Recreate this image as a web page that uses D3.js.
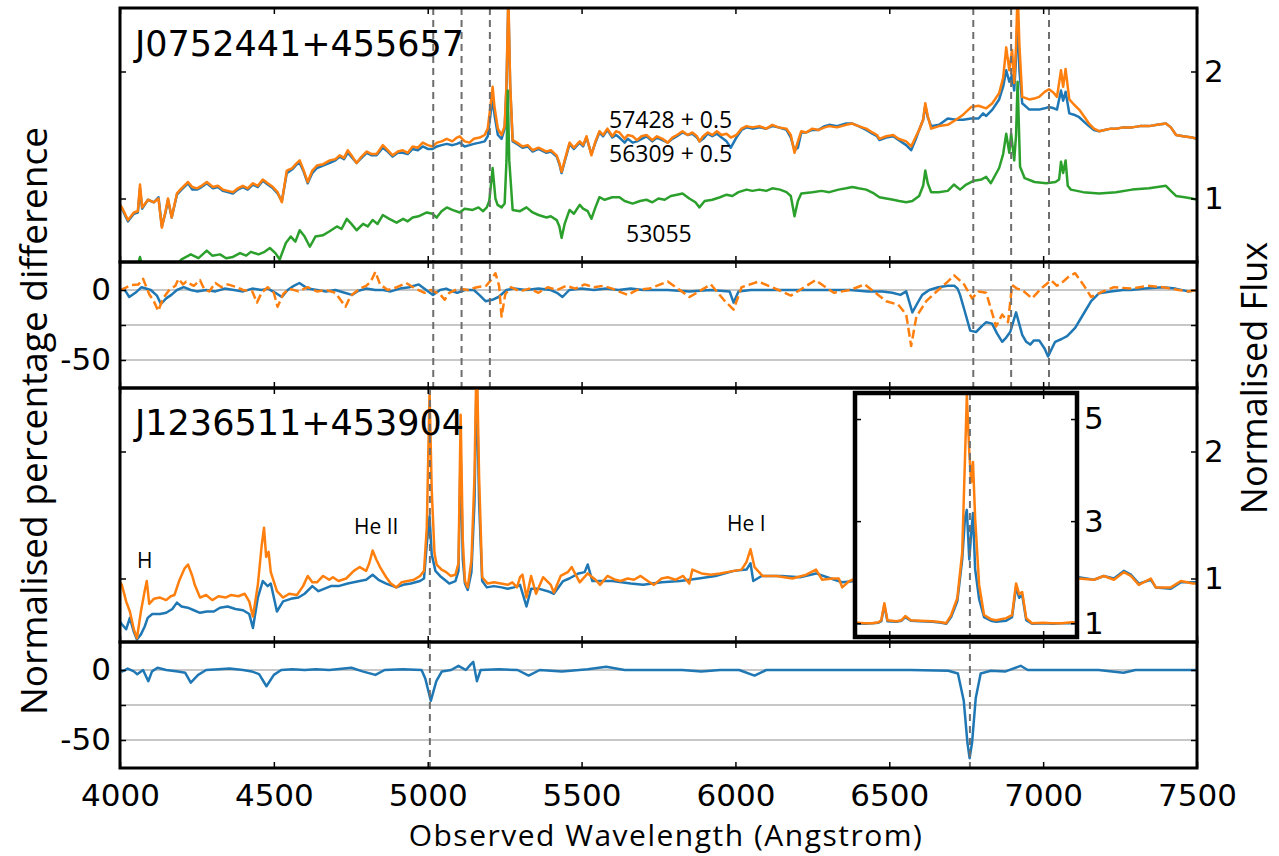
<!DOCTYPE html>
<html>
<head>
<meta charset="utf-8">
<script src="https://cdn.jsdelivr.net/npm/d3@7"></script>
<style>
  body { margin: 0; background: #fff; }
  svg { display: block; }
</style>
</head>
<body>
<svg id="chart"></svg>
<script>
// ---------------- data ----------------
const xTicks = [4000, 4500, 5000, 5500, 6000, 6500, 7000, 7500];
const fluxTicks = [1, 2];
const diffTicks = [0, -25, -50];
const diffTickLabels = [0, -50];
const insetXTicks = [6500, 7000];
const insetTicks = [1, 3, 5];

const objectTop = 'J0752441+455657';
const objectBottom = 'J1236511+453904';
const epochLabels = ['57428 + 0.5', '56309 + 0.5', '53055'];
const lineLabels = ['H', 'He II', 'He I'];

// dashed marker wavelengths
const topMarkers = [5018, 5110, 5202, 6773, 6896, 7019];
const bottomMarkers = [5007, 6762];

// J0752441+455657 spectra (offset already applied)
const flux57428 = [[4000,0.95],[4006,0.93],[4026,0.83],[4045,0.89],[4058,0.9],[4065,1.11],[4072,0.93],[4091,0.99],[4110,0.97],[4125,1.0],[4136,0.77],[4148,0.9],[4156,1.0],[4168,0.85],[4185,1.04],[4200,1.08],[4221,1.13],[4235,1.09],[4250,1.08],[4265,1.1],[4282,1.13],[4302,1.09],[4318,1.1],[4334,1.07],[4350,1.06],[4367,1.05],[4383,1.08],[4399,1.1],[4415,1.08],[4432,1.12],[4448,1.1],[4464,1.15],[4480,1.12],[4497,1.09],[4512,1.05],[4526,0.97],[4542,1.22],[4560,1.24],[4575,1.28],[4584,1.30],[4597,1.22],[4610,1.13],[4625,1.22],[4640,1.26],[4660,1.27],[4682,1.30],[4700,1.31],[4714,1.34],[4728,1.32],[4740,1.38],[4755,1.33],[4769,1.28],[4785,1.33],[4802,1.37],[4818,1.35],[4834,1.35],[4854,1.42],[4870,1.38],[4886,1.34],[4903,1.37],[4919,1.38],[4935,1.36],[4951,1.41],[4968,1.40],[4984,1.44],[5000,1.42],[5016,1.41],[5030,1.44],[5045,1.45],[5062,1.47],[5080,1.45],[5095,1.48],[5104,1.49],[5120,1.45],[5136,1.44],[5150,1.47],[5169,1.48],[5185,1.50],[5195,1.55],[5205,1.75],[5211,1.88],[5217,1.72],[5228,1.55],[5240,1.50],[5250,1.57],[5256,1.9],[5262,2.6],[5268,1.9],[5276,1.46],[5290,1.44],[5308,1.41],[5325,1.42],[5341,1.38],[5360,1.40],[5386,1.37],[5400,1.38],[5419,1.34],[5428,1.28],[5435,1.21],[5445,1.30],[5461,1.44],[5475,1.40],[5494,1.45],[5505,1.42],[5516,1.49],[5532,1.34],[5545,1.45],[5558,1.53],[5570,1.50],[5584,1.55],[5600,1.49],[5612,1.53],[5623,1.52],[5640,1.47],[5650,1.50],[5666,1.49],[5680,1.46],[5695,1.49],[5711,1.50],[5730,1.46],[5745,1.49],[5763,1.47],[5780,1.44],[5795,1.48],[5810,1.50],[5828,1.53],[5845,1.50],[5860,1.52],[5875,1.49],[5883,1.45],[5895,1.49],[5910,1.52],[5925,1.50],[5940,1.53],[5955,1.50],[5971,1.51],[5985,1.48],[6003,1.50],[6020,1.55],[6036,1.57],[6055,1.56],[6078,1.57],[6100,1.55],[6120,1.58],[6140,1.56],[6166,1.55],[6180,1.50],[6192,1.36],[6203,1.45],[6214,1.53],[6230,1.52],[6250,1.55],[6270,1.54],[6290,1.56],[6305,1.57],[6330,1.56],[6360,1.58],[6380,1.59],[6400,1.57],[6425,1.55],[6445,1.52],[6460,1.50],[6468,1.47],[6490,1.49],[6513,1.50],[6530,1.47],[6555,1.45],[6571,1.41],[6585,1.48],[6597,1.54],[6610,1.62],[6617,1.75],[6625,1.65],[6636,1.55],[6662,1.57],[6690,1.58],[6717,1.62],[6740,1.66],[6766,1.72],[6790,1.73],[6815,1.71],[6835,1.75],[6857,1.83],[6870,1.95],[6880,2.19],[6890,2.01],[6899,2.17],[6906,1.91],[6912,2.2],[6917,2.65],[6923,2.2],[6932,1.80],[6955,1.78],[6975,1.79],[6987,1.80],[7005,1.84],[7019,1.86],[7035,1.83],[7045,1.80],[7058,2.01],[7065,1.88],[7073,2.02],[7085,1.78],[7100,1.74],[7117,1.70],[7135,1.64],[7149,1.59],[7165,1.55],[7182,1.53],[7200,1.54],[7220,1.55],[7237,1.55],[7260,1.56],[7289,1.56],[7315,1.57],[7344,1.57],[7370,1.58],[7399,1.59],[7415,1.56],[7432,1.50],[7455,1.49],[7484,1.48],[7500,1.47]];

const flux56309 = [[4000,0.94],[4006,0.92],[4026,0.82],[4045,0.88],[4058,0.89],[4065,1.08],[4072,0.92],[4091,0.99],[4110,0.97],[4125,1.01],[4136,0.78],[4148,0.89],[4156,0.99],[4168,0.85],[4185,1.03],[4200,1.07],[4221,1.12],[4235,1.07],[4250,1.07],[4265,1.09],[4282,1.12],[4302,1.08],[4318,1.09],[4334,1.06],[4350,1.05],[4367,1.04],[4383,1.07],[4399,1.09],[4415,1.07],[4432,1.11],[4448,1.09],[4464,1.14],[4480,1.11],[4497,1.08],[4512,1.04],[4526,0.98],[4542,1.20],[4560,1.23],[4575,1.27],[4584,1.28],[4597,1.21],[4610,1.12],[4625,1.20],[4640,1.24],[4660,1.26],[4682,1.28],[4700,1.30],[4714,1.33],[4728,1.31],[4740,1.36],[4755,1.32],[4769,1.28],[4785,1.32],[4802,1.36],[4818,1.34],[4834,1.34],[4854,1.40],[4870,1.37],[4886,1.33],[4903,1.36],[4919,1.36],[4935,1.35],[4951,1.39],[4968,1.38],[4984,1.41],[5000,1.39],[5016,1.39],[5030,1.41],[5045,1.42],[5062,1.43],[5080,1.42],[5095,1.43],[5104,1.44],[5120,1.41],[5136,1.42],[5150,1.43],[5169,1.44],[5185,1.45],[5195,1.49],[5205,1.68],[5211,1.78],[5217,1.66],[5228,1.50],[5240,1.47],[5250,1.55],[5256,1.88],[5262,2.55],[5268,1.88],[5276,1.45],[5290,1.43],[5308,1.40],[5325,1.41],[5341,1.37],[5360,1.39],[5386,1.36],[5400,1.37],[5419,1.33],[5428,1.27],[5435,1.20],[5445,1.29],[5461,1.43],[5475,1.39],[5494,1.44],[5505,1.41],[5516,1.48],[5532,1.35],[5545,1.44],[5558,1.52],[5570,1.49],[5584,1.54],[5600,1.48],[5612,1.50],[5623,1.48],[5640,1.44],[5650,1.47],[5666,1.44],[5680,1.45],[5695,1.47],[5711,1.49],[5730,1.45],[5745,1.48],[5763,1.46],[5780,1.44],[5795,1.47],[5810,1.49],[5828,1.52],[5845,1.50],[5860,1.51],[5875,1.48],[5883,1.45],[5895,1.47],[5910,1.51],[5925,1.49],[5940,1.51],[5955,1.48],[5971,1.45],[5985,1.40],[6003,1.48],[6020,1.54],[6036,1.56],[6055,1.55],[6078,1.56],[6100,1.55],[6120,1.57],[6140,1.56],[6166,1.54],[6180,1.48],[6192,1.38],[6203,1.40],[6214,1.52],[6230,1.52],[6250,1.54],[6270,1.54],[6290,1.57],[6305,1.58],[6330,1.57],[6360,1.59],[6380,1.59],[6400,1.57],[6425,1.54],[6445,1.51],[6460,1.49],[6468,1.46],[6490,1.48],[6513,1.49],[6530,1.46],[6555,1.42],[6571,1.38],[6585,1.46],[6597,1.54],[6610,1.62],[6617,1.73],[6625,1.64],[6636,1.57],[6662,1.58],[6690,1.63],[6717,1.62],[6740,1.62],[6766,1.63],[6790,1.63],[6805,1.67],[6815,1.65],[6835,1.70],[6857,1.78],[6870,1.88],[6880,2.01],[6890,1.92],[6899,1.97],[6906,1.85],[6912,2.1],[6917,2.45],[6923,2.0],[6932,1.75],[6955,1.70],[6987,1.70],[7005,1.71],[7019,1.72],[7035,1.71],[7045,1.70],[7058,1.85],[7065,1.77],[7073,1.84],[7085,1.67],[7100,1.66],[7117,1.64],[7135,1.60],[7149,1.57],[7165,1.54],[7182,1.53],[7200,1.54],[7220,1.55],[7237,1.55],[7260,1.56],[7289,1.56],[7315,1.57],[7344,1.57],[7370,1.58],[7399,1.59],[7415,1.56],[7432,1.50],[7455,1.49],[7484,1.48],[7500,1.47]];

const flux53055 = [[4000,0.42],[4030,0.40],[4055,0.45],[4065,0.54],[4075,0.44],[4100,0.40],[4130,0.38],[4160,0.42],[4185,0.48],[4200,0.52],[4230,0.56],[4255,0.53],[4282,0.59],[4300,0.55],[4325,0.56],[4345,0.53],[4367,0.54],[4390,0.57],[4410,0.55],[4425,0.58],[4450,0.56],[4470,0.58],[4487,0.61],[4505,0.57],[4519,0.52],[4539,0.65],[4555,0.70],[4570,0.66],[4584,0.75],[4600,0.70],[4617,0.62],[4635,0.70],[4659,0.71],[4680,0.74],[4705,0.78],[4720,0.76],[4737,0.84],[4752,0.80],[4769,0.75],[4790,0.80],[4805,0.78],[4821,0.83],[4837,0.80],[4854,0.87],[4875,0.84],[4899,0.81],[4920,0.84],[4935,0.82],[4951,0.85],[4970,0.86],[4997,0.89],[5015,0.88],[5029,0.85],[5045,0.90],[5062,0.93],[5080,0.91],[5104,0.89],[5120,0.92],[5146,0.91],[5165,0.93],[5180,0.90],[5192,0.93],[5200,0.98],[5211,1.24],[5220,1.0],[5227,0.95],[5240,0.93],[5250,0.96],[5256,1.3],[5260,1.85],[5265,1.3],[5276,0.91],[5300,0.90],[5321,0.93],[5341,0.89],[5360,0.87],[5386,0.85],[5400,0.86],[5419,0.83],[5428,0.78],[5435,0.69],[5445,0.80],[5461,0.91],[5475,0.88],[5494,0.95],[5505,0.92],[5520,0.90],[5532,0.84],[5545,0.93],[5558,1.01],[5575,0.99],[5600,1.01],[5623,1.01],[5640,0.98],[5666,0.96],[5690,0.98],[5711,0.99],[5730,0.97],[5750,1.0],[5770,0.99],[5790,1.02],[5810,1.03],[5828,1.04],[5850,1.0],[5870,0.97],[5883,0.93],[5900,0.98],[5925,0.99],[5950,1.01],[5971,1.03],[5990,1.02],[6010,1.05],[6036,1.07],[6055,1.06],[6078,1.07],[6100,1.06],[6120,1.08],[6145,1.07],[6166,1.05],[6180,1.02],[6192,0.86],[6203,0.98],[6214,1.04],[6250,1.05],[6280,1.06],[6305,1.05],[6335,1.07],[6360,1.08],[6380,1.09],[6400,1.08],[6425,1.07],[6450,1.04],[6468,1.01],[6490,1.0],[6513,0.99],[6532,0.98],[6555,0.97],[6575,0.98],[6597,1.02],[6610,1.10],[6617,1.22],[6625,1.12],[6636,1.05],[6660,1.05],[6690,1.06],[6710,1.11],[6730,1.07],[6750,1.11],[6775,1.14],[6800,1.15],[6815,1.17],[6830,1.12],[6857,1.24],[6870,1.35],[6880,1.51],[6890,1.36],[6896,1.51],[6906,1.30],[6912,1.5],[6917,1.92],[6925,1.25],[6940,1.16],[6972,1.13],[7010,1.12],[7040,1.13],[7052,1.15],[7058,1.29],[7065,1.20],[7073,1.30],[7080,1.10],[7090,1.07],[7130,1.05],[7182,1.04],[7237,1.05],[7289,1.07],[7344,1.08],[7399,1.10],[7415,1.06],[7432,1.02],[7460,1.01],[7484,1.0],[7500,0.99]];

// percentage differences for J0752441+455657
const diffTopSolid = [[4000,0],[4013,1],[4030,-5],[4050,-2],[4070,2],[4100,0],[4120,-4],[4133,-10],[4150,-6],[4167,-3.5],[4185,0],[4207,2],[4230,0],[4250,-1],[4280,0],[4310,-1],[4340,1],[4370,0],[4400,-1],[4430,1],[4460,0],[4481,1],[4505,-2],[4526,-5],[4545,0],[4565,3],[4583,5],[4610,1],[4640,0],[4670,-1],[4700,0],[4730,-2],[4754,-3.5],[4775,-0.5],[4800,1],[4830,0],[4855,0],[4880,-1],[4910,1],[4940,2],[4971,4],[4995,0],[5017,-3.5],[5040,0],[5060,1],[5080,-1],[5096,-2],[5120,0],[5150,0],[5170,-4],[5188,-8],[5210,-7],[5230,-5],[5256,0],[5280,1],[5320,0],[5360,1],[5400,0],[5420,-2],[5438,-5],[5460,0],[5500,1],[5540,0],[5580,1],[5620,0],[5660,1],[5700,0],[5721,0],[5780,0],[5851,-1],[5920,0],[5981,-1],[5994,-9],[6010,-1],[6050,0],[6110,0],[6180,0],[6243,0],[6300,0],[6373,0],[6430,-1],[6477,-1],[6510,-2],[6536,-3.5],[6555,-1],[6575,-16],[6590,-10],[6607,-3.5],[6630,0],[6659,2],[6690,3],[6711,3],[6722,1],[6730,-3.5],[6745,-15],[6763,-29],[6782,-30],[6800,-26],[6815,-23],[6834,-24],[6850,-31],[6867,-37],[6880,-34],[6893,-30],[6912,-16],[6922,-24],[6932,-32],[6945,-37],[6958,-39],[6970,-36],[6987,-36],[7005,-42],[7016,-47.5],[7028,-42],[7039,-37],[7060,-35],[7078,-33],[7104,-27],[7130,-17.5],[7156,-8],[7182,-2.3],[7220,-1],[7260,0],[7286,0],[7330,1],[7390,2],[7430,1],[7471,-1],[7500,0]];

const diffTopDashed = [[4000,0],[4013,1],[4035,3.5],[4060,4],[4075,8],[4095,-3],[4110,-8],[4124,-15],[4140,-6],[4160,0],[4180,3],[4190,8],[4205,4],[4215,6],[4240,3],[4260,7],[4275,0],[4290,-1],[4310,5],[4330,2],[4350,4],[4380,2],[4400,0],[4430,-1],[4445,-9],[4460,-2],[4480,2],[4500,-2],[4512,-12],[4530,-3],[4550,1],[4580,-1],[4610,2],[4640,-1],[4670,0],[4700,-2],[4720,-8],[4733,-12],[4750,-4],[4780,1],[4800,3],[4815,6],[4830,13],[4845,4],[4870,0],[4900,2],[4930,5],[4960,1],[4990,-2],[5010,0],[5040,-3],[5055,-7],[5070,-2],[5100,1],[5130,0],[5160,2],[5190,3],[5205,7],[5220,12],[5232,3],[5240,-19],[5252,-3],[5270,2],[5300,-1],[5330,1],[5360,-2],[5390,2],[5420,0],[5450,3],[5480,1],[5510,4],[5540,2],[5570,3],[5600,1],[5620,-1],[5650,-3.5],[5680,0],[5721,1],[5780,6],[5851,-5],[5920,4],[5962,-7],[5994,-14],[6020,2],[6075,6],[6140,0],[6180,-4],[6260,7],[6320,-2],[6373,0],[6420,4],[6490,-8],[6529,-10.5],[6555,-17.5],[6571,-40],[6588,-19],[6620,-8],[6659,0],[6690,6],[6711,10.5],[6743,4],[6769,-6],[6790,-1],[6815,-2],[6847,-26],[6867,-17.5],[6886,-23],[6899,3.5],[6915,1],[6932,0],[6964,-6],[6993,1],[7026,7],[7045,3],[7065,6],[7085,10],[7104,12],[7130,4],[7156,-5],[7195,-1],[7230,2],[7286,1],[7340,3],[7390,2],[7440,0],[7471,-1],[7500,0]];

// J1236511+453904 spectra
const fluxBright = [[4000,0.97],[4006,0.95],[4020,0.82],[4032,0.74],[4045,0.60],[4055,0.53],[4068,0.74],[4080,0.90],[4087,0.98],[4095,0.80],[4110,0.84],[4130,0.85],[4150,0.83],[4165,0.86],[4177,0.87],[4192,0.98],[4210,1.08],[4221,1.11],[4235,1.02],[4243,0.95],[4260,0.85],[4280,0.87],[4300,0.83],[4320,0.86],[4343,0.85],[4360,0.87],[4385,0.86],[4405,0.88],[4420,0.82],[4432,0.70],[4448,0.95],[4460,1.25],[4468,1.40],[4475,1.17],[4483,1.21],[4490,1.05],[4510,0.90],[4530,0.85],[4550,0.88],[4575,0.87],[4595,0.94],[4610,1.02],[4625,0.97],[4640,0.97],[4660,1.02],[4680,0.99],[4692,1.01],[4710,0.98],[4735,1.0],[4760,1.06],[4779,1.09],[4800,1.06],[4810,1.12],[4821,1.22],[4833,1.15],[4845,1.09],[4865,1.01],[4880,0.96],[4898,0.93],[4915,0.97],[4935,0.98],[4955,0.99],[4975,1.02],[4988,1.06],[4997,1.40],[5006,2.47],[5013,1.70],[5022,1.20],[5029,1.11],[5045,1.07],[5060,1.05],[5075,1.02],[5090,1.03],[5100,1.12],[5107,2.29],[5114,1.30],[5121,0.98],[5130,0.93],[5142,1.14],[5152,1.8],[5159,2.8],[5167,1.8],[5177,1.01],[5195,0.96],[5215,0.97],[5238,0.96],[5260,0.95],[5275,0.97],[5290,0.93],[5300,1.01],[5308,1.03],[5321,0.85],[5336,1.02],[5352,0.88],[5375,1.01],[5400,0.95],[5410,0.89],[5432,1.02],[5455,1.05],[5468,1.09],[5494,0.97],[5520,1.04],[5545,0.99],[5560,0.95],[5584,1.02],[5610,0.99],[5627,0.98],[5650,1.0],[5670,0.99],[5692,1.02],[5715,0.98],[5735,0.95],[5760,1.0],[5780,1.01],[5805,0.99],[5830,1.02],[5850,0.96],[5860,1.07],[5890,1.04],[5920,1.03],[5950,1.04],[5995,1.06],[6020,1.07],[6036,1.13],[6049,1.23],[6062,1.09],[6088,1.02],[6133,1.02],[6185,1.0],[6230,1.03],[6262,1.07],[6282,0.99],[6315,1.0],[6336,1.0],[6347,0.93],[6370,0.98],[6390,1.0],[7110,1.0],[7115,1.0],[7165,0.99],[7197,1.02],[7230,0.99],[7262,1.05],[7285,1.02],[7311,0.95],[7350,1.0],[7366,0.93],[7415,0.93],[7448,0.98],[7487,0.96],[7500,0.96]];

const fluxFaint = [[4000,0.66],[4006,0.64],[4020,0.60],[4032,0.69],[4045,0.58],[4055,0.52],[4068,0.56],[4080,0.62],[4090,0.69],[4105,0.72],[4130,0.72],[4150,0.73],[4170,0.76],[4185,0.81],[4200,0.78],[4220,0.77],[4240,0.75],[4260,0.73],[4282,0.74],[4305,0.74],[4325,0.77],[4350,0.78],[4375,0.76],[4400,0.75],[4420,0.72],[4432,0.61],[4448,0.85],[4464,0.98],[4480,0.94],[4490,0.96],[4510,0.74],[4530,0.82],[4555,0.84],[4580,0.85],[4600,0.88],[4625,0.94],[4645,0.90],[4665,0.92],[4685,0.94],[4710,0.94],[4740,0.96],[4779,0.98],[4800,0.99],[4821,1.03],[4840,0.99],[4865,0.96],[4898,0.93],[4920,0.95],[4945,0.96],[4975,0.98],[4988,1.0],[4997,1.27],[5006,1.49],[5013,1.19],[5025,1.06],[5040,1.02],[5050,1.00],[5070,0.96],[5090,0.98],[5100,1.06],[5107,2.0],[5114,1.15],[5121,0.96],[5130,0.91],[5142,1.05],[5152,1.6],[5159,2.6],[5167,1.6],[5177,0.98],[5192,0.93],[5215,0.94],[5240,0.93],[5260,0.92],[5280,0.93],[5300,0.95],[5321,0.78],[5336,0.92],[5360,0.92],[5390,0.90],[5410,0.88],[5440,0.98],[5460,1.0],[5490,1.04],[5510,1.05],[5520,1.11],[5535,0.98],[5560,0.98],[5600,0.98],[5660,0.96],[5700,0.95],[5760,0.97],[5820,0.98],[5880,1.0],[5935,1.02],[5995,1.06],[6036,1.07],[6049,1.12],[6058,0.98],[6085,1.02],[6150,1.02],[6210,1.01],[6262,1.04],[6310,1.0],[6347,0.97],[6390,0.98],[7110,1.0],[7115,1.01],[7165,0.99],[7197,1.02],[7230,1.0],[7262,1.06],[7285,1.03],[7311,0.96],[7350,0.99],[7366,0.93],[7415,0.92],[7448,0.97],[7487,0.97],[7500,0.97]];

// inset: same spectra around the 6760 line, full height
const insetBright = [[6380,1.02],[6420,1.0],[6445,1.0],[6465,1.02],[6474,1.06],[6484,1.39],[6494,1.06],[6523,1.04],[6540,1.06],[6552,1.14],[6570,1.06],[6600,1.05],[6640,1.04],[6670,1.02],[6685,1.0],[6701,1.16],[6721,1.49],[6737,2.39],[6752,5.45],[6760,4.35],[6766,3.76],[6772,4.16],[6779,3.06],[6792,1.75],[6808,1.16],[6830,1.08],[6847,1.06],[6880,1.10],[6899,1.16],[6912,1.78],[6922,1.57],[6932,1.61],[6945,1.10],[6964,1.0],[7000,1.01],[7029,1.0],[7060,1.0],[7094,1.02],[7115,1.01]];
const insetFaint = [[6380,1.0],[6420,0.99],[6445,1.0],[6465,1.01],[6474,1.04],[6484,1.35],[6494,1.04],[6523,1.03],[6540,1.05],[6552,1.12],[6570,1.05],[6600,1.04],[6640,1.03],[6670,1.01],[6685,0.99],[6701,1.12],[6721,1.43],[6737,2.25],[6746,3.06],[6752,3.22],[6760,2.25],[6766,2.74],[6772,3.16],[6779,2.06],[6792,1.47],[6808,1.12],[6830,1.05],[6847,1.03],[6880,1.05],[6899,1.12],[6912,1.71],[6922,1.5],[6932,1.55],[6945,1.06],[6964,0.99],[7000,1.0],[7029,0.99],[7060,1.0],[7094,1.0],[7115,1.0]];

const diffBottom = [[4000,0],[4008,-1],[4025,1],[4045,-1],[4056,-3],[4075,0],[4092,-8],[4104,-1],[4122,1.6],[4150,0],[4188,-1],[4212,-2],[4230,-9],[4254,-3.5],[4280,0],[4320,0.5],[4356,1],[4400,0],[4428,-1],[4452,-3],[4476,-11.6],[4500,-3.5],[4524,0],[4560,0.5],[4600,0],[4636,0.5],[4680,0],[4752,1.6],[4788,-1],[4830,-3.5],[4860,0],[4920,0.5],[4980,0],[4992,-6],[5010,-22],[5028,-8],[5046,-1],[5076,0],[5100,3],[5124,0],[5140,4],[5148,5.8],[5160,-8],[5172,0],[5232,0.5],[5292,0],[5328,-4],[5364,0],[5436,-1],[5520,0.5],[5580,2.3],[5640,0],[5720,0],[5827,0],[5889,-1],[5950,0],[6012,0],[6062,-4],[6100,0],[6200,0],[6320,0],[6440,0],[6569,0],[6692,-0.5],[6723,-2.5],[6742,-22],[6754,-52],[6761,-63],[6769,-52],[6781,-20],[6797,-2.5],[6830,-0.5],[6878,-1],[6927,3],[6950,0],[7050,0],[7180,0],[7261,-2],[7300,0],[7400,0],[7500,0]];

// ---------------- layout ----------------
const W = 1279, H = 856;
const plotLeft = 120, plotRight = 1197;
const blue = '#1f77b4', orange = '#ff7f0e', green = '#2ca02c';
const tickFont = '"DejaVu Sans", sans-serif';
const textFont = '"Open Sans", sans-serif';

const svg = d3.select('#chart').attr('width', W).attr('height', H);
svg.append('rect').attr('width', W).attr('height', H).attr('fill', '#fff');

const xScale = d3.scaleLinear().domain([4000, 7500]).range([plotLeft, plotRight]);

class SpectrumPanel {
    constructor(_config, _series) {
        this.config = {
            id: _config.id,
            top: _config.top,
            bottom: _config.bottom,
            left: _config.left || plotLeft,
            right: _config.right || plotRight,
            yDomain: _config.yDomain,
            yTicks: _config.yTicks,
            yLabels: _config.yLabels || [],
            labelSide: _config.labelSide || 'right',
            xTicks: _config.xTicks || xTicks,
            xLabels: _config.xLabels || false,
            grid: _config.grid || [],
            markers: _config.markers || [],
            border: _config.border || 3,
            background: _config.background || false
        };
        this.series = _series;
        this.initVis();
    }

    initVis() {
        let vis = this;
        const c = vis.config;

        vis.yScale = d3.scaleLinear().domain(c.yDomain).range([c.bottom, c.top]);
        vis.line = d3.line()
            .x(d => xScale(d[0]))
            .y(d => vis.yScale(d[1]));

        vis.g = svg.append('g').attr('class', 'panel ' + c.id);

        vis.g.append('clipPath').attr('id', 'clip-' + c.id)
          .append('rect')
            .attr('x', c.left).attr('y', c.top)
            .attr('width', c.right - c.left)
            .attr('height', c.bottom - c.top);

        if (c.background) {
            vis.g.append('rect')
                .attr('x', c.left).attr('y', c.top)
                .attr('width', c.right - c.left)
                .attr('height', c.bottom - c.top)
                .attr('fill', '#fff');
        }
        vis.plot = vis.g.append('g').attr('clip-path', `url(#clip-${c.id})`);
    }

    renderVis() {
        let vis = this;
        const c = vis.config;

        // horizontal grid (difference panels)
        vis.plot.selectAll('.grid')
            .data(c.grid)
            .join('line')
            .attr('class', 'grid')
            .attr('x1', c.left).attr('x2', c.right)
            .attr('y1', d => vis.yScale(d)).attr('y2', d => vis.yScale(d))
            .attr('stroke', '#b4b4b4')
            .attr('stroke-width', 1.5);

        vis.plot.selectAll('.spec')
            .data(vis.series)
            .join('path')
            .attr('class', 'spec')
            .attr('d', d => vis.line(d.values))
            .attr('fill', 'none')
            .attr('stroke', d => d.color)
            .attr('stroke-width', 2.5)
            .attr('stroke-linejoin', 'round')
            .attr('stroke-dasharray', d => d.dash || null);

        // dashed line markers
        vis.plot.selectAll('.marker')
            .data(c.markers)
            .join('line')
            .attr('class', 'marker')
            .attr('x1', d => xScale(d)).attr('x2', d => xScale(d))
            .attr('y1', c.top).attr('y2', c.bottom)
            .attr('stroke', '#6e6e6e')
            .attr('stroke-width', 2)
            .attr('stroke-dasharray', '7,5');

        // ticks on all four sides, pointing inwards
        const xTop = d3.axisTop(xScale).tickValues(c.xTicks).tickSize(-6).tickFormat('');
        const xBottom = d3.axisBottom(xScale).tickValues(c.xTicks).tickSize(-6).tickPadding(16)
            .tickFormat(d => c.xLabels ? String(d) : '');
        const yFmt = d => c.yLabels.includes(d) ? String(d) : '';
        const yLeft = d3.axisLeft(vis.yScale).tickValues(c.yTicks).tickSize(-6).tickPadding(9)
            .tickFormat(c.labelSide === 'left' ? yFmt : '');
        const yRight = d3.axisRight(vis.yScale).tickValues(c.yTicks).tickSize(-6).tickPadding(7)
            .tickFormat(c.labelSide === 'right' ? yFmt : '');

        const axes = [
            [xTop, `translate(0,${c.top})`],
            [xBottom, `translate(0,${c.bottom})`],
            [yLeft, `translate(${c.left},0)`],
            [yRight, `translate(${c.right},0)`]
        ];
        axes.forEach(([axis, tr]) => {
            const ag = vis.g.append('g').attr('transform', tr).call(axis);
            ag.select('.domain').remove();
            ag.selectAll('.tick line').attr('stroke', '#000').attr('stroke-width', 1.5);
            ag.selectAll('.tick text')
                .attr('fill', '#000')
                .style('font-family', tickFont)
                .style('font-size', '31px');
        });

        vis.g.append('rect')
            .attr('x', c.left).attr('y', c.top)
            .attr('width', c.right - c.left)
            .attr('height', c.bottom - c.top)
            .attr('fill', 'none')
            .attr('stroke', '#000')
            .attr('stroke-width', c.border);
    }
}

// ---------------- panels ----------------
const p1 = new SpectrumPanel(
    {id: 'p1', top: 8, bottom: 262, yDomain: [0.5, 2.5], yTicks: fluxTicks, yLabels: fluxTicks, markers: topMarkers},
    [
        {values: flux56309, color: blue},
        {values: flux57428, color: orange},
        {values: flux53055, color: green}
    ]);
const p2 = new SpectrumPanel(
    {id: 'p2', top: 262, bottom: 388, yDomain: [-70, 20], yTicks: diffTicks, yLabels: diffTickLabels,
     labelSide: 'left', grid: diffTicks, markers: topMarkers},
    [
        {values: diffTopSolid, color: blue},
        {values: diffTopDashed, color: orange, dash: '9,4'}
    ]);
const p3 = new SpectrumPanel(
    {id: 'p3', top: 388, bottom: 642, yDomain: [0.5, 2.5], yTicks: fluxTicks, yLabels: fluxTicks, markers: [bottomMarkers[0]]},
    [
        {values: fluxFaint, color: blue},
        {values: fluxBright, color: orange}
    ]);
const p4 = new SpectrumPanel(
    {id: 'p4', top: 642, bottom: 768, yDomain: [-70, 20], yTicks: diffTicks, yLabels: diffTickLabels,
     labelSide: 'left', grid: diffTicks, markers: bottomMarkers, xLabels: true},
    [
        {values: diffBottom, color: blue}
    ]);

[p1, p2, p3, p4].forEach(p => p.renderVis());

const inset = new SpectrumPanel(
    {id: 'inset', left: 855, right: 1077, top: 393, bottom: 637, yDomain: [0.73, 5.51],
     yTicks: insetTicks, yLabels: insetTicks, xTicks: insetXTicks, markers: [bottomMarkers[1]],
     border: 4.5, background: true},
    [
        {values: insetFaint, color: blue},
        {values: insetBright, color: orange}
    ]);
inset.renderVis();

// ---------------- text ----------------
const addText = (txt, x, y, size, family, anchor, rotate) => {
    const t = svg.append('text')
        .attr('text-anchor', anchor || 'start')
        .style('font-family', family)
        .style('font-size', size + 'px')
        .attr('fill', '#000')
        .text(txt);
    if (rotate) t.attr('transform', `translate(${x},${y}) rotate(${rotate})`);
    else t.attr('x', x).attr('y', y);
    return t;
};

addText(objectTop, 135, 56, 35, tickFont);
addText(objectBottom, 135, 435, 35, tickFont);

addText(epochLabels[0], 609, 128, 23, textFont);
addText(epochLabels[1], 609, 162, 23, textFont);
addText(epochLabels[2], 626, 242, 23, textFont);

addText(lineLabels[0], 137, 568, 21, textFont);
addText(lineLabels[1], 354, 534, 21, textFont);
addText(lineLabels[2], 727, 531, 21, textFont);

addText('Normalised percentage difference', 47, 421, 37, textFont, 'middle', -90);
addText('Normalised Flux', 1267, 378, 36, textFont, 'middle', -90);
addText('Observed Wavelength (Angstrom)', 666, 846, 30, textFont, 'middle')
    .style('letter-spacing', '1.5px');
</script>
</body>
</html>
